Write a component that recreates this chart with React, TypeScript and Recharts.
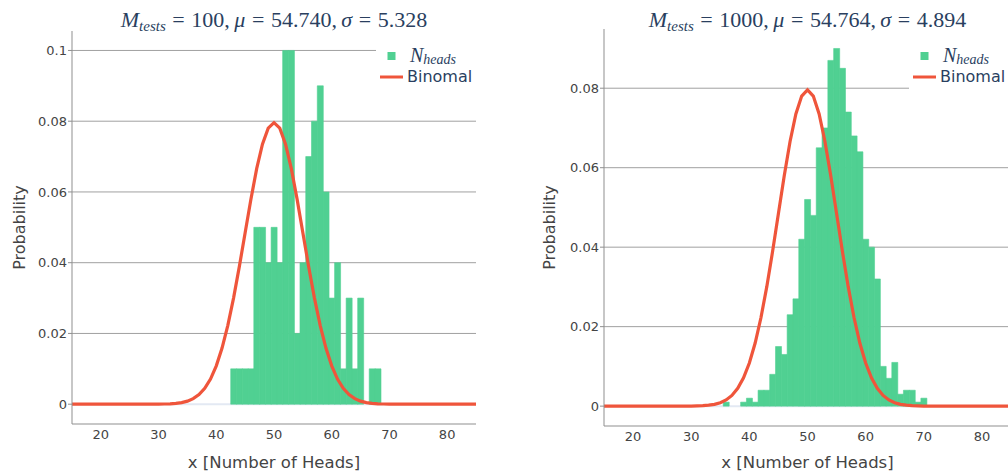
import React from 'react';
import { ComposedChart, Bar, Line, XAxis, YAxis, CartesianGrid, Legend } from 'recharts';

// number of heads k, and the Binomial(100, 0.5) probability of each k
const binomK = [
  15, 16, 17, 18, 19, 20, 21, 22, 23, 24, 25, 26, 27, 28, 29, 30, 31, 32, 33, 34,
  35, 36, 37, 38, 39, 40, 41, 42, 43, 44, 45, 46, 47, 48, 49, 50, 51, 52, 53, 54,
  55, 56, 57, 58, 59, 60, 61, 62, 63, 64, 65, 66, 67, 68, 69, 70, 71, 72, 73, 74,
  75, 76, 77, 78, 79, 80, 81, 82, 83, 84, 85,
];
const binomP = [
  0, 0, 0, 0, 0, 0, 0, 0, 0, 0, 0.0000002, 0.0000005, 0.0000015, 0.0000039, 0.0000098,
  0.0000232, 0.0000523, 0.0001128, 0.0002325, 0.0004581, 0.0008639, 0.0015597, 0.0026979,
  0.0044729, 0.0071107, 0.0108439, 0.0158691, 0.0222923, 0.0300687, 0.0389526, 0.0484743,
  0.0579584, 0.0665905, 0.073527, 0.0780286, 0.0795892, 0.0780286, 0.073527, 0.0665905,
  0.0579584, 0.0484743, 0.0389526, 0.0300687, 0.0222923, 0.0158691, 0.0108439, 0.0071107,
  0.0044729, 0.0026979, 0.0015597, 0.0008639, 0.0004581, 0.0002325, 0.0001128, 0.0000523,
  0.0000232, 0.0000098, 0.0000039, 0.0000015, 0.0000005, 0.0000002, 0, 0, 0, 0, 0, 0, 0,
  0, 0, 0,
];

// measured histogram, 100 tests
const headsK100 = [
  43, 44, 45, 46, 47, 48, 49, 50, 51, 52, 53, 54, 55, 56, 57, 58, 59, 60, 61, 62, 63, 64,
  65, 66, 67, 68,
];
const headsP100 = [
  0.01, 0.01, 0.01, 0.01, 0.05, 0.05, 0.04, 0.05, 0.04, 0.1, 0.1, 0.02, 0.04, 0.07, 0.08,
  0.09, 0.06, 0.03, 0.04, 0.01, 0.03, 0.01, 0.03, 0, 0.01, 0.01,
];

// measured histogram, 1000 tests
const headsK1000 = [
  36, 37, 38, 39, 40, 41, 42, 43, 44, 45, 46, 47, 48, 49, 50, 51, 52, 53, 54, 55, 56, 57,
  58, 59, 60, 61, 62, 63, 64, 65, 66, 67, 68, 69, 70,
];
const headsP1000 = [
  0.001, 0, 0, 0.001, 0.002, 0.001, 0.004, 0.004, 0.008, 0.015, 0.013, 0.023, 0.027, 0.042,
  0.052, 0.048, 0.065, 0.07, 0.087, 0.09, 0.085, 0.074, 0.068, 0.064, 0.042, 0.04, 0.032,
  0.01, 0.007, 0.011, 0.003, 0.004, 0.004, 0.001, 0.002,
];

const xTicks = [20, 30, 40, 50, 60, 70, 80];
const yTicks100 = [0, 0.02, 0.04, 0.06, 0.08, 0.1];
const yTicks1000 = [0, 0.02, 0.04, 0.06, 0.08];

const GREEN = '#50d092';
const RED = '#ef553b';
const INK = '#2a3f5f';
const AXIS_TEXT = '#444';
const SANS = '"DejaVu Sans", Verdana, sans-serif';
const SERIF = '"Liberation Serif", "Times New Roman", serif';

function buildRows(hk: number[], hp: number[]) {
  return binomK.map((k, i) => {
    const j = hk.indexOf(k);
    return { x: k, binom: binomP[i], heads: j >= 0 ? hp[j] : null };
  });
}

function LegendBox(props: any) {
  const items = props.payload || [];
  const bar = items.find((p: any) => p.dataKey === 'heads');
  const line = items.find((p: any) => p.dataKey === 'binom');
  return (
    <svg width={140} height={58} style={{ display: 'block', background: '#fff' }}>
      <rect x={11.5} y={14} width={8} height={8} fill={bar?.color || GREEN} />
      <text x={34} y={23.7} fontFamily={SERIF} fontStyle="italic" fontSize={20} fill={INK}>
        N
        <tspan fontSize={14} dy={2.6}>heads</tspan>
      </text>
      <line x1={4} x2={27} y1={39} y2={39} stroke={line?.color || RED} strokeWidth={3} />
      <text x={31} y={43.7} fontFamily={SANS} fontSize={16} fill={INK}>
        Binomal
      </text>
    </svg>
  );
}

function Title({ m, mu, sigma }: { m: string; mu: string; sigma: string }) {
  const eq = <span style={{ fontStyle: 'normal', margin: '0 0.3em' }}>=</span>;
  const comma = <span style={{ fontStyle: 'normal', marginRight: '0.2em' }}>,</span>;
  return (
    <span style={{ fontFamily: SERIF, fontSize: 22, color: INK, whiteSpace: 'nowrap' }}>
      <i>M</i>
      <i style={{ fontSize: 15, position: 'relative', top: 4 }}>tests</i>
      {eq}
      {m}
      {comma}
      <i>μ</i>
      {eq}
      {mu}
      {comma}
      <i>σ</i>
      {eq}
      {sigma}
    </span>
  );
}

type PanelProps = {
  left: number;
  width: number;
  axisWidth: number;
  top: number;
  xAxisHeight: number;
  yDomain: [number, number];
  yTicks: number[];
  labelOffset: number;
  legendLeft: number;
  rows: any[];
  title: React.ReactNode;
};

function Panel(p: PanelProps) {
  const plotLeft = p.axisWidth;
  const plotWidth = p.width - p.axisWidth;
  return (
    <div style={{ position: 'absolute', left: p.left, top: 0, width: p.width, height: 473 }}>
      <ComposedChart
        width={p.width}
        height={473}
        data={p.rows}
        margin={{ top: p.top, right: 0, bottom: 0, left: 0 }}
        barCategoryGap={0}
        barGap={0}
      >
        <CartesianGrid
          vertical={false}
          horizontalValues={p.yTicks.filter((t) => t > 0)}
          stroke="#a0a0a0"
        />
        <CartesianGrid vertical={false} horizontalValues={[0]} stroke="#e3e9f3" strokeWidth={2} />
        <XAxis
          dataKey="x"
          type="number"
          domain={[15, 85]}
          ticks={xTicks}
          tickLine={false}
          tickMargin={0}
          height={p.xAxisHeight}
          axisLine={{ stroke: '#8f8f8f' }}
          tick={{ fill: AXIS_TEXT, fontSize: 13, fontFamily: SANS }}
          label={{
            value: 'x [Number of Heads]',
            position: 'insideBottom',
            offset: 5,
            fill: AXIS_TEXT,
            fontSize: 16.5,
            fontFamily: SANS,
          }}
        />
        <YAxis
          type="number"
          domain={p.yDomain}
          ticks={p.yTicks}
          width={p.axisWidth}
          allowDataOverflow
          tickSize={4}
          tickMargin={1}
          tickLine={{ stroke: '#8f8f8f' }}
          axisLine={{ stroke: '#8f8f8f' }}
          tick={{ fill: AXIS_TEXT, fontSize: 13, fontFamily: SANS }}
          label={{
            value: 'Probability',
            angle: -90,
            position: 'insideLeft',
            offset: p.labelOffset,
            style: { textAnchor: 'middle' },
            fill: AXIS_TEXT,
            fontSize: 16,
            fontFamily: SANS,
          }}
        />
        <Bar
          dataKey="heads"
          fill={GREEN}
          stroke={GREEN}
          strokeWidth={0.6}
          legendType="square"
          isAnimationActive={false}
        />
        <Line
          dataKey="binom"
          type="linear"
          stroke={RED}
          strokeWidth={3.2}
          dot={false}
          activeDot={false}
          legendType="line"
          isAnimationActive={false}
        />
        <Legend
          layout="vertical"
          align="center"
          verticalAlign="middle"
          content={LegendBox}
          wrapperStyle={{ left: p.legendLeft, top: 38, width: 140, height: 58 }}
        />
      </ComposedChart>
      <div
        style={{
          position: 'absolute',
          left: plotLeft,
          width: plotWidth,
          top: 8,
          lineHeight: '24px',
          textAlign: 'center',
        }}
      >
        {p.title}
      </div>
    </div>
  );
}

export default function App() {
  const rows100 = buildRows(headsK100, headsP100);
  const rows1000 = buildRows(headsK1000, headsP1000);
  return (
    <div
      style={{
        position: 'absolute',
        left: 0,
        top: 0,
        width: 1008,
        height: 473,
        overflow: 'hidden',
        background: '#fff',
      }}
    >
      <Panel
        left={0}
        width={476}
        axisWidth={72}
        top={31}
        xAxisHeight={49}
        yDomain={[-0.0056, 0.1055]}
        yTicks={yTicks100}
        labelOffset={19}
        legendLeft={376}
        rows={rows100}
        title={<Title m="100" mu="54.740" sigma="5.328" />}
      />
      <Panel
        left={540}
        width={471}
        axisWidth={64}
        top={29}
        xAxisHeight={47}
        yDomain={[-0.005, 0.0949]}
        yTicks={yTicks1000}
        labelOffset={9}
        legendLeft={369}
        rows={rows1000}
        title={<Title m="1000" mu="54.764" sigma="4.894" />}
      />
    </div>
  );
}
